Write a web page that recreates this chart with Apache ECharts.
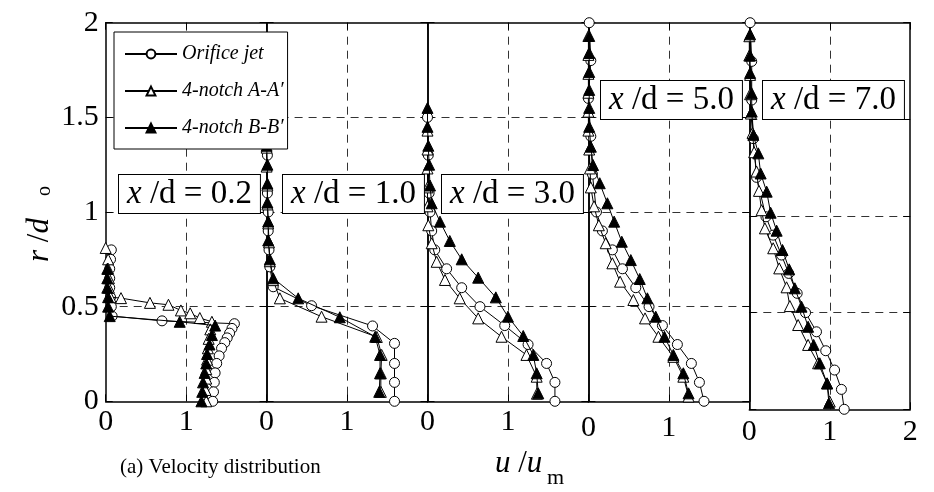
<!DOCTYPE html>
<html><head><meta charset="utf-8">
<script src="https://cdn.jsdelivr.net/npm/echarts@6/dist/echarts.min.js"></script>
<style>html,body{margin:0;padding:0;background:#fff}#c{width:934px;height:492px}</style>
</head><body><div id="c"></div>
<script>
// ---- data (u/um, r/do) ----
const seriesNames = ['Orifice jet', '4-notch A-A\u2032', '4-notch B-B\u2032'];
const panelXd = ['0.2', '1.0', '3.0', '5.0', '7.0'];
const xTickValues = [0, 1, 2];
const yTickValues = [0, 0.5, 1, 1.5, 2];

const orifice02 = [[0.07,0.80],[0.06,0.75],[0.05,0.70],[0.05,0.65],[0.05,0.60],[0.06,0.55],[0.07,0.50],[0.08,0.45],[0.70,0.425],[1.60,0.41],[1.57,0.385],[1.54,0.36],[1.51,0.335],[1.48,0.31],[1.44,0.28],[1.41,0.24],[1.38,0.20],[1.36,0.15],[1.35,0.10],[1.34,0.05],[1.33,0.0]];
const openA02 = [[0.0,0.81],[0.03,0.75],[0.03,0.70],[0.04,0.65],[0.04,0.60],[0.06,0.55],[0.19,0.545],[0.55,0.52],[0.78,0.51],[0.935,0.48],[1.05,0.465],[1.17,0.44],[1.32,0.42],[1.30,0.38],[1.28,0.33],[1.27,0.28],[1.26,0.22],[1.25,0.17],[1.25,0.12],[1.24,0.06],[1.25,0.0]];
const filledB02 = [[0.02,0.70],[0.02,0.65],[0.02,0.60],[0.03,0.55],[0.03,0.50],[0.05,0.45],[0.92,0.42],[1.36,0.40],[1.32,0.35],[1.29,0.30],[1.26,0.25],[1.25,0.20],[1.23,0.15],[1.21,0.10],[1.20,0.05],[1.19,0.0]];

const orifice10 = [[1.59,0.0],[1.59,0.10],[1.59,0.20],[1.59,0.306],[1.317,0.398],[0.559,0.505],[0.082,0.605],[0.04,0.71],[0.03,0.80],[0.02,0.90],[0.02,1.0],[0.01,1.10],[0.01,1.30],[0.0,1.50]];
const openA10 = [[1.42,0.05],[1.42,0.148],[1.43,0.245],[1.37,0.34],[0.683,0.447],[0.165,0.544],[0.08,0.64],[0.04,0.74],[0.03,0.84],[0.02,0.94],[0.01,1.04],[0.01,1.14],[0.0,1.24],[0.0,1.34],[0.0,1.44]];
const filledB10 = [[1.40,0.05],[1.41,0.148],[1.41,0.245],[1.35,0.341],[0.91,0.444],[0.393,0.544],[0.082,0.65],[0.04,0.75],[0.02,0.85],[0.02,0.95],[0.01,1.05],[0.01,1.15],[0.01,1.25],[0.0,1.35],[0.0,1.45],[0.0,1.55]];

const orifice30 = [[1.584,0.0],[1.584,0.10],[1.48,0.20],[1.25,0.30],[0.96,0.40],[0.652,0.50],[0.425,0.60],[0.238,0.70],[0.09,0.80],[0.052,0.90],[0.031,1.0],[0.02,1.10],[0.01,1.30],[0.0,1.50]];
const openA30 = [[1.36,0.04],[1.357,0.13],[1.23,0.245],[0.92,0.341],[0.63,0.438],[0.40,0.544],[0.217,0.641],[0.114,0.737],[0.052,0.835],[0.01,0.93],[0.0,1.03],[0.0,1.13],[0.0,1.23],[0.0,1.33],[0.0,1.43]];
const filledB30 = [[1.377,0.042],[1.357,0.148],[1.315,0.245],[1.19,0.345],[1.0,0.447],[0.849,0.549],[0.63,0.653],[0.425,0.75],[0.277,0.847],[0.155,0.949],[0.052,1.046],[0.031,1.14],[0.02,1.25],[0.01,1.35],[0.0,1.45],[0.0,1.55]];

const orifice50 = [[1.437,0.0],[1.38,0.10],[1.28,0.20],[1.106,0.30],[0.92,0.40],[0.754,0.50],[0.589,0.60],[0.423,0.70],[0.298,0.80],[0.174,0.90],[0.10,1.0],[0.05,1.20],[0.03,1.40],[0.0,1.60],[0.03,1.80],[0.01,2.0]];
const openA50 = [[1.245,0.025],[1.18,0.13],[1.056,0.235],[0.87,0.341],[0.704,0.438],[0.559,0.535],[0.394,0.632],[0.298,0.729],[0.215,0.835],[0.13,0.93],[0.07,1.03],[0.03,1.13],[0.02,1.23],[0.01,1.33],[0.0,1.43],[0.0,1.53],[0.0,1.63],[0.0,1.73],[0.0,1.83],[0.0,1.93]];
const filledB50 = [[1.245,0.042],[1.18,0.148],[1.056,0.245],[0.945,0.341],[0.837,0.447],[0.733,0.544],[0.638,0.646],[0.527,0.746],[0.415,0.843],[0.32,0.949],[0.236,1.046],[0.141,1.152],[0.058,1.248],[0.03,1.345],[0.01,1.45],[0.01,1.55],[0.01,1.645],[0.01,1.74],[0.01,1.84],[0.01,1.93]];

const orifice70 = [[1.18,0.0],[1.145,0.103],[1.06,0.203],[0.95,0.303],[0.835,0.401],[0.699,0.50],[0.595,0.60],[0.49,0.703],[0.40,0.798],[0.297,0.901],[0.207,0.996],[0.09,1.20],[0.05,1.40],[0.03,1.60],[0.03,1.80],[0.01,2.0]];
const openA70 = [[1.0,0.04],[0.967,0.134],[0.855,0.238],[0.731,0.333],[0.607,0.436],[0.504,0.534],[0.463,0.631],[0.372,0.729],[0.297,0.833],[0.194,0.936],[0.153,1.03],[0.12,1.13],[0.09,1.23],[0.06,1.33],[0.04,1.43],[0.02,1.53],[0.01,1.63],[0.01,1.73],[0.0,1.83],[0.0,1.93]];
const filledB70 = [[0.99,0.031],[0.967,0.134],[0.876,0.238],[0.80,0.333],[0.731,0.427],[0.649,0.531],[0.566,0.626],[0.496,0.724],[0.413,0.824],[0.34,0.924],[0.265,1.017],[0.216,1.126],[0.141,1.22],[0.112,1.324],[0.05,1.42],[0.03,1.54],[0.03,1.635],[0.01,1.74],[0.01,1.83],[0.01,1.94]];

const panelData = [
  [orifice02, openA02, filledB02],
  [orifice10, openA10, filledB10],
  [orifice30, openA30, filledB30],
  [orifice50, openA50, filledB50],
  [orifice70, openA70, filledB70]
];

// ---- layout / style ----
const F = 'Liberation Serif';
const lefts = [105.7, 266.6, 427.5, 588.4, 749.3];
const W = 160.9;
const TOP = 22.7;
const heights = [378.6, 378.6, 378.6, 378.6, 386.6];
const labelMargins = [6, 6, 6, 12, 8];

const grids = [], xAxes = [], yAxes = [], series = [];
const tick = { show: true, inside: true, length: 7, lineStyle: { color: '#000', width: 1 } };
const axisLine = { show: true, onZero: false, lineStyle: { color: '#000', width: 1.5 } };
const dash = { show: true, showMinLine: false, showMaxLine: false, lineStyle: { color: '#333', width: 1, type: [8, 6] } };

for (let i = 0; i < 5; i++) {
  grids.push({ left: lefts[i], top: TOP, width: W, height: heights[i], containLabel: false });
  const xBase = { type: 'value', gridIndex: i, min: xTickValues[0], max: xTickValues[xTickValues.length - 1], interval: 1 };
  xAxes.push(Object.assign({}, xBase, {
    position: 'bottom', axisLine, axisTick: tick, splitLine: dash,
    axisLabel: { show: true, margin: labelMargins[i], color: '#000', fontFamily: F, fontSize: 30,
      showMaxLabel: i === 4, formatter: v => String(v) }
  }));
  xAxes.push(Object.assign({}, xBase, {
    position: 'top', axisLine, axisTick: tick, splitLine: { show: false }, axisLabel: { show: false }
  }));
  const yBase = { type: 'value', gridIndex: i, min: yTickValues[0], max: yTickValues[yTickValues.length - 1], interval: 0.5 };
  yAxes.push(Object.assign({}, yBase, {
    position: 'left', axisLine, axisTick: tick, splitLine: dash,
    axisLabel: { show: i === 0, margin: 7, color: '#000', fontFamily: F, fontSize: 30, formatter: v => String(v) }
  }));
  yAxes.push(Object.assign({}, yBase, {
    position: 'right', axisLine, axisTick: tick, splitLine: { show: false }, axisLabel: { show: false }
  }));
  const styles = [
    { symbol: 'circle', fill: '#fff' },
    { symbol: 'triangle', fill: '#fff' },
    { symbol: 'triangle', fill: '#000' }
  ];
  for (let s = 0; s < 3; s++) {
    series.push({
      type: 'line', name: seriesNames[s], xAxisIndex: 2 * i, yAxisIndex: 2 * i,
      data: panelData[i][s], symbol: styles[s].symbol, symbolSize: s === 0 ? 10 : 11,
      showAllSymbol: true, clip: false, animation: false, z: 3 + s,
      lineStyle: { color: '#000', width: 1 },
      itemStyle: { color: styles[s].fill, borderColor: '#000', borderWidth: 1 }
    });
  }
}

const graphics = [];
const boxPos = [[118, 174], [282, 174], [441, 174], [600, 80], [762, 80]];
panelXd.forEach((v, i) => {
  graphics.push({
    type: 'text', left: boxPos[i][0], top: boxPos[i][1], z: 100,
    style: {
      text: '{i|x} /d = ' + v,
      rich: { i: { fontStyle: 'italic', fontFamily: F, fontSize: 33 } },
      fontFamily: F, fontSize: 33, fill: '#000',
      backgroundColor: '#fff', borderColor: '#000', borderWidth: 1, padding: [3, 8, 2, 8]
    }
  });
});
// y axis name r/d_o
graphics.push({ type: 'text', x: 40, y: 262, rotation: Math.PI / 2, z: 100,
  style: { text: '{i|r} /{i|d}', rich: { i: { fontStyle: 'italic', fontFamily: F, fontSize: 31 } },
    fontFamily: F, fontSize: 31, fill: '#000', align: 'left', verticalAlign: 'middle' } });
graphics.push({ type: 'text', x: 45, y: 196, rotation: Math.PI / 2, z: 100,
  style: { text: 'o', fontFamily: F, fontSize: 20, fill: '#000', align: 'left', verticalAlign: 'middle' } });
// x axis name u/u_m
graphics.push({ type: 'text', left: 495, top: 448, z: 100,
  style: { text: '{i|u} /{i|u}', rich: { i: { fontStyle: 'italic', fontFamily: F, fontSize: 31 } },
    fontFamily: F, fontSize: 31, fill: '#000' } });
graphics.push({ type: 'text', left: 547, top: 467, z: 100,
  style: { text: 'm', fontFamily: F, fontSize: 22, fill: '#000' } });
graphics.push({ type: 'text', left: 120, top: 457, z: 100,
  style: { text: '(a) Velocity distribution', fontFamily: F, fontSize: 21, fill: '#000' } });

const chart = echarts.init(document.getElementById('c'));
chart.setOption({
  backgroundColor: '#fff',
  animation: false,
  grid: grids, xAxis: xAxes, yAxis: yAxes, series,
  legend: {
    data: seriesNames, orient: 'vertical', left: 114, top: 32, z: 50,
    itemWidth: 52, itemHeight: 11, itemGap: 17,
    backgroundColor: '#fff', borderColor: '#000', borderWidth: 1, padding: [12, 4, 11, 10],
    textStyle: { fontFamily: F, fontStyle: 'italic', fontSize: 20, color: '#000' },
    selectedMode: false
  },
  graphic: graphics
});
</script></body></html>
